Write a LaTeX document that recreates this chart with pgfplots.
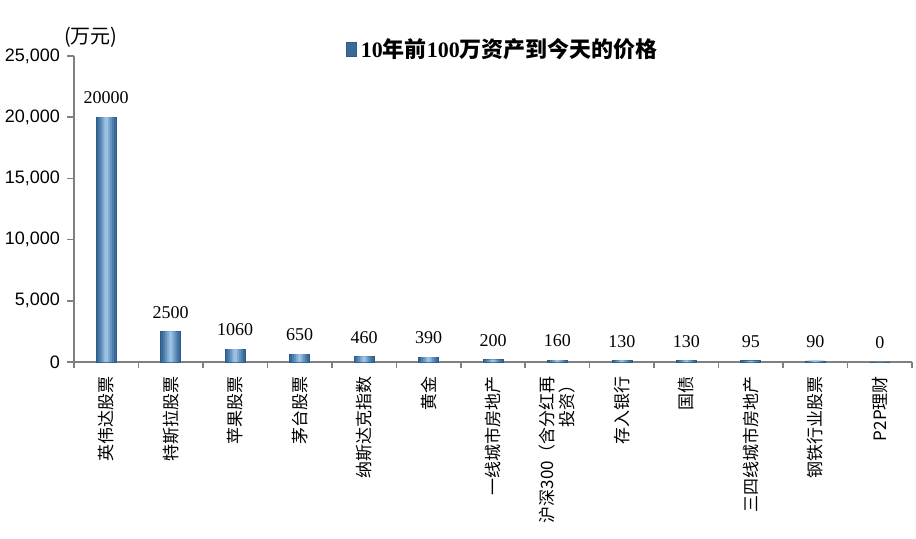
\documentclass[border=0pt]{standalone}
\usepackage{fontspec}
\setmainfont{Liberation Serif}
\setsansfont{Liberation Sans}
\newfontfamily\cjk{Noto Sans CJK SC}
\usepackage{pgfplots}
\pgfplotsset{compat=1.18}
\definecolor{barA}{HTML}{3A6A98}
\definecolor{barB}{HTML}{4C7EAB}
\definecolor{barC}{HTML}{6593BF}
\definecolor{barD}{HTML}{80AAD2}
\definecolor{barE}{HTML}{9CC0E2}
\definecolor{barEdge}{HTML}{2E5C88}
\definecolor{axGray}{HTML}{808080}
\pgfplotstableread{
x y
0 20000
1 2500
2 1060
3 650
4 460
5 390
6 200
7 160
8 130
9 130
10 95
11 90
12 0
}\assets
\begin{document}
\begin{tikzpicture}
\useasboundingbox (-37pt,-88pt) rectangle (421pt,181pt);
\begin{axis}[
  scale only axis,
  width=419pt, height=153pt,
  xmin=-0.5, xmax=12.5,
  ymin=0, ymax=25000,
  axis lines=left,
  axis line style={-, axGray, line width=0.8pt},
  ytick={0,5000,10000,15000,20000,25000},
  scaled y ticks=false,
  yticklabel style={font=\sffamily\fontsize{9}{10}\selectfont,
    /pgf/number format/1000 sep={,},
    /pgf/number format/assume math mode=true},
  xtick={0,...,12},
  xticklabels={英伟达股票,特斯拉股票,苹果股票,茅台股票,纳斯达克指数,黄金,一线城市房地产,{沪深300（含分红再\\投资）},存入银行,国债,三四线城市房地产,钢铁行业股票,P2P理财},
  xticklabel style={rotate=90, anchor=east, align=right,
    font=\cjk\fontsize{8.5}{10}\selectfont},
  minor xtick={-0.5,0.5,...,12.5},
  tick align=outside,
  major x tick style={draw=none},
  major tick length=3.5pt,
  minor tick length=3pt,
  tick style={axGray, line width=0.8pt},
  ybar,
  bar shift=0pt,
  legend style={at={(0.317,1.02)}, anchor=west, draw=none, fill=none,
    font=\fontsize{11}{13}\selectfont},
  legend image code/.code={\draw[draw=barEdge, line width=0.4pt, left color=barA, middle color=barE, right color=barA] (0pt,-3.5pt) rectangle (5pt,3.5pt);},
  clip=false,
]
\addplot[draw=barEdge, line width=0.4pt, fill=barA, bar width=10pt,
  nodes near coords={\pgfmathprintnumber[1000 sep={},assume math mode=true]{\pgfplotspointmeta}},
  every node near coord/.append style={font=\rmfamily\fontsize{9}{10}\selectfont, black, yshift=3pt}]
  table[x=x, y=y] {\assets};
\addlegendentry{\textbf{10{\cjk 年前}100{\cjk 万资产到今天的价格}}}
\addplot[draw=none, fill=barB, bar width=7.6pt, forget plot] table[x=x, y=y] {\assets};
\addplot[draw=none, fill=barC, bar width=5.6pt, forget plot] table[x=x, y=y] {\assets};
\addplot[draw=none, fill=barD, bar width=3.6pt, forget plot] table[x=x, y=y] {\assets};
\addplot[draw=none, fill=barE, bar width=1.8pt, forget plot] table[x=x, y=y] {\assets};
\node[font=\cjk\fontsize{10}{11}\selectfont] at (axis description cs:0.02,1.06) {(万元)};
\end{axis}
\end{tikzpicture}
\end{document}
